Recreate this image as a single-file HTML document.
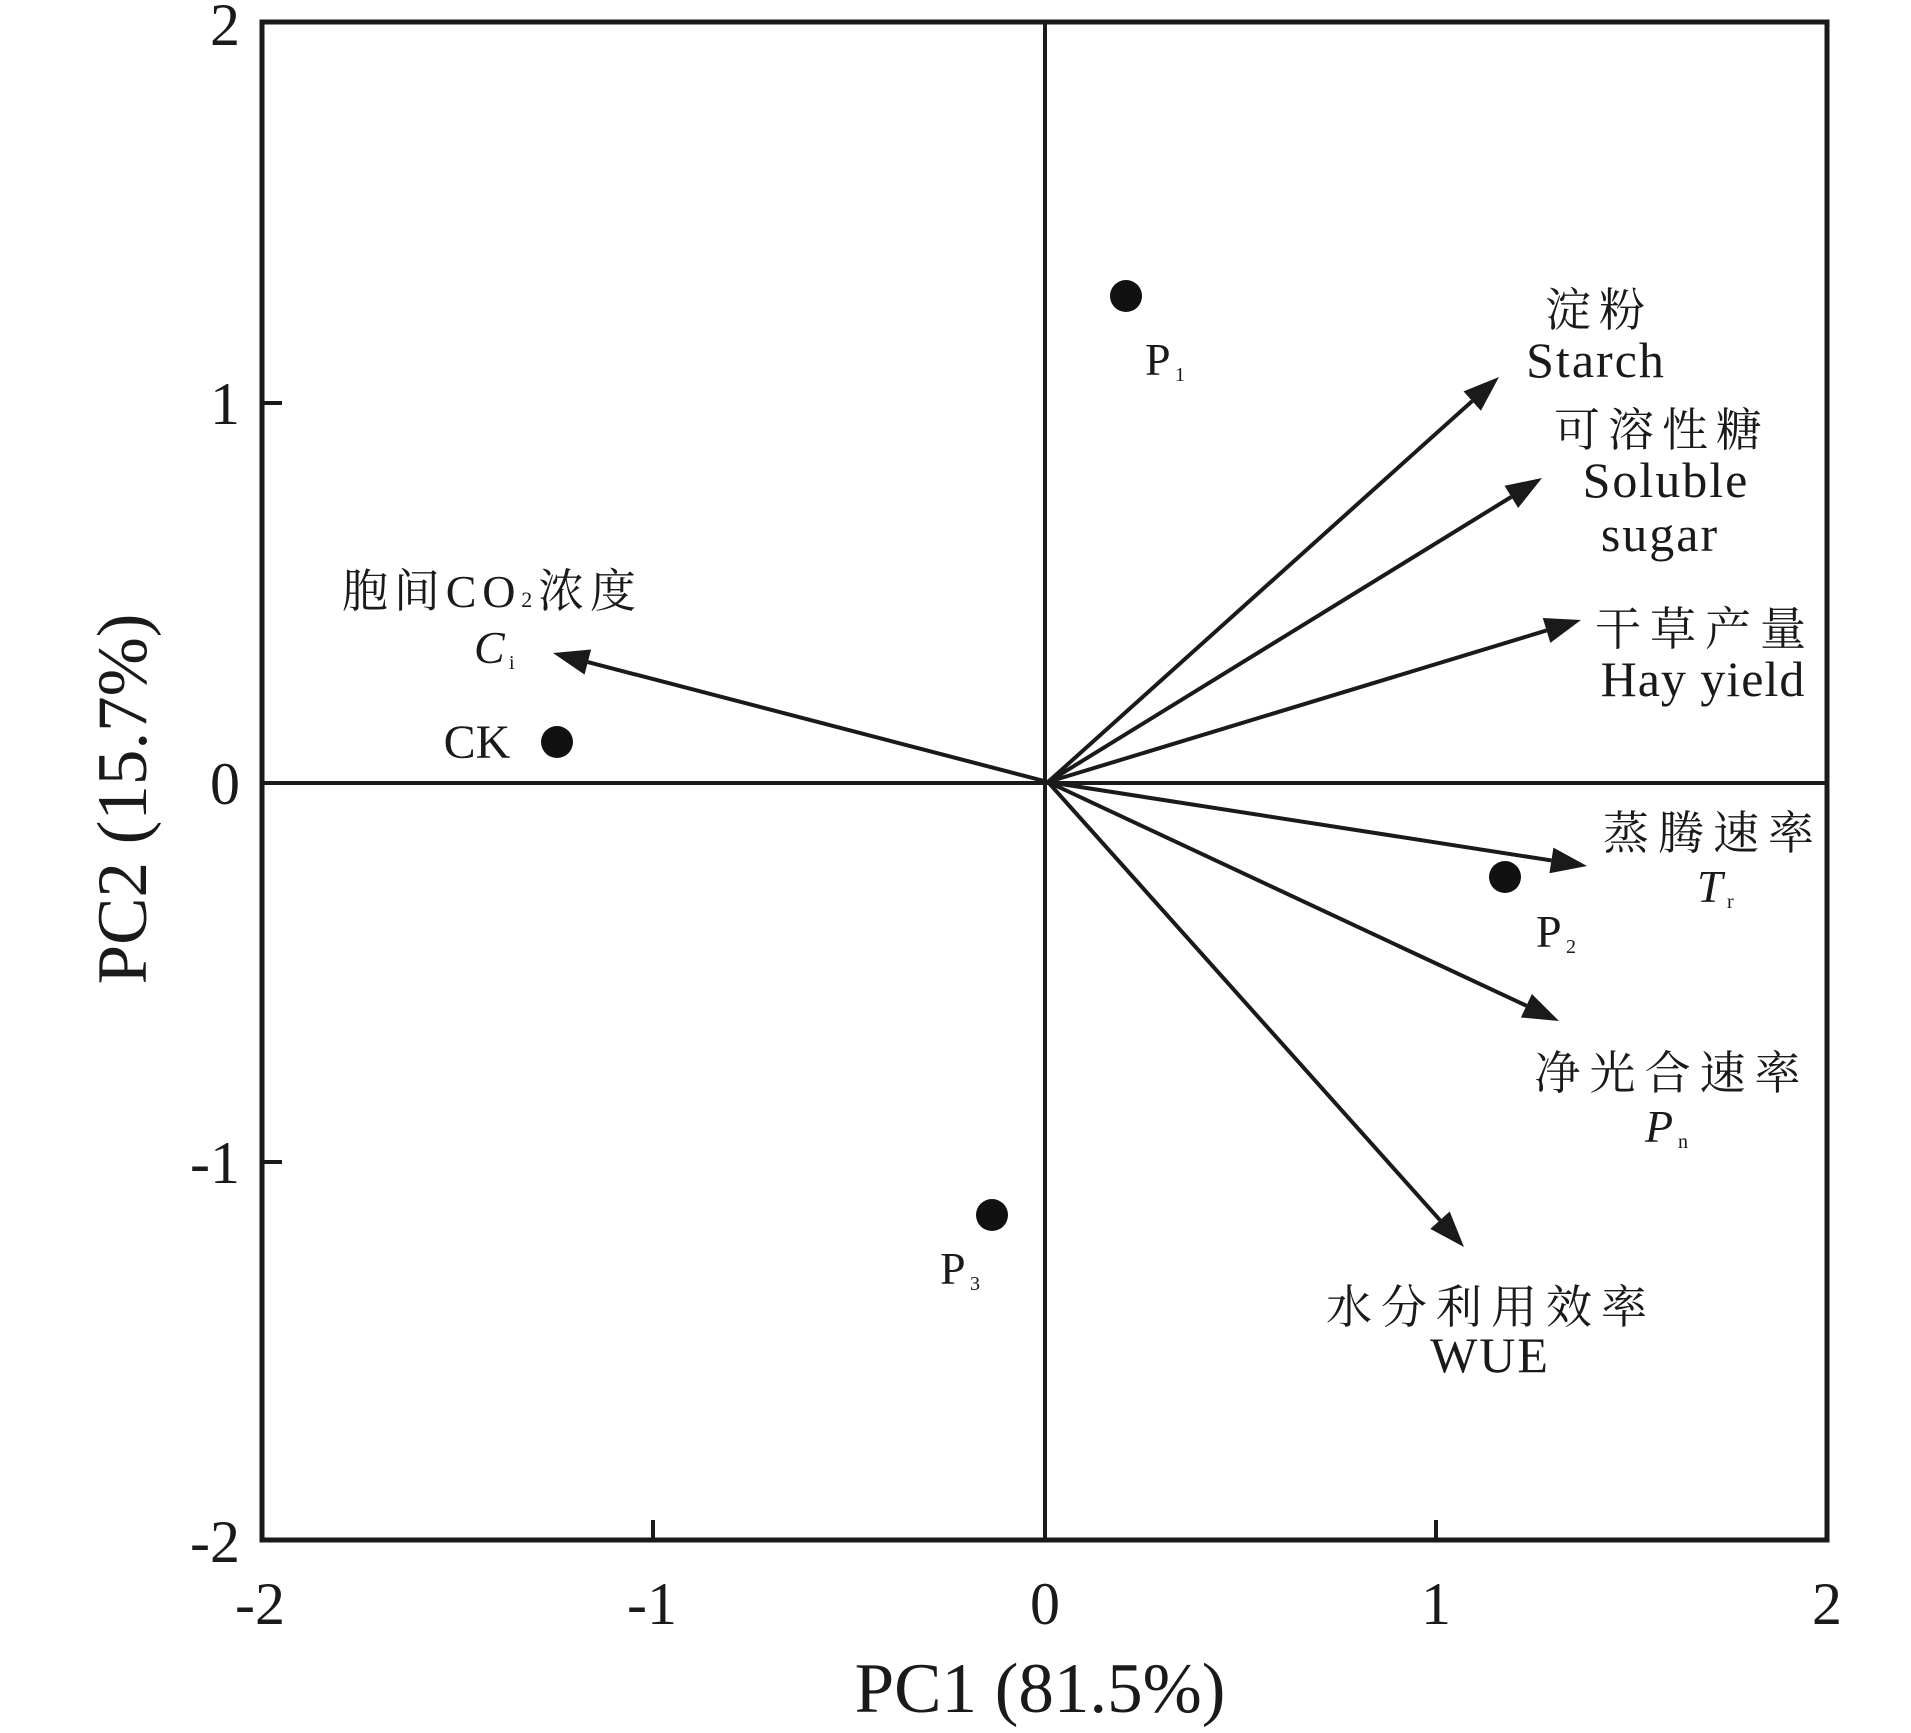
<!DOCTYPE html>
<html><head><meta charset="utf-8"><style>html,body{margin:0;padding:0;background:#fff}</style></head>
<body>
<svg width="1911" height="1728" viewBox="0 0 1911 1728" xmlns="http://www.w3.org/2000/svg" font-family="'Liberation Serif','Noto Serif CJK SC',serif" fill="#1a1a1a">
<g stroke="#1a1a1a" fill="none">
<rect x="262" y="22" width="1565" height="1518" stroke-width="5"/>
<line x1="1045" y1="22" x2="1045" y2="1540" stroke-width="4"/>
<line x1="262" y1="783" x2="1827" y2="783" stroke-width="4"/>
<line x1="262" y1="403" x2="282" y2="403" stroke-width="4"/>
<line x1="262" y1="1162" x2="282" y2="1162" stroke-width="4"/>
<line x1="653" y1="1540" x2="653" y2="1520" stroke-width="4"/>
<line x1="1436" y1="1540" x2="1436" y2="1520" stroke-width="4"/>
</g>
<g id="arrows" stroke="#1a1a1a" stroke-width="4"></g>
<script>
var ends=[[1499,377],[1542,478],[1581,620],[1587,866],[1559,1021],[1464,1247],[553,653]];
var g=document.getElementById('arrows'),ox=1048,oy=782,NS='http://www.w3.org/2000/svg';
ends.forEach(function(e){var dx=e[0]-ox,dy=e[1]-oy,L=Math.hypot(dx,dy),ux=dx/L,uy=dy/L,h=36,w=13;
var bx=e[0]-ux*h,by=e[1]-uy*h;
var l=document.createElementNS(NS,'line');l.setAttribute('x1',ox);l.setAttribute('y1',oy);l.setAttribute('x2',bx);l.setAttribute('y2',by);g.appendChild(l);
var p=document.createElementNS(NS,'polygon');p.setAttribute('points',e[0]+','+e[1]+' '+(bx-uy*w)+','+(by+ux*w)+' '+(bx+uy*w)+','+(by-ux*w));p.setAttribute('fill','#1a1a1a');p.setAttribute('stroke','none');g.appendChild(p);});
</script>
<g fill="#111">
<circle cx="1126" cy="296" r="16"/>
<circle cx="557" cy="742" r="16"/>
<circle cx="1505" cy="877" r="16"/>
<circle cx="992" cy="1215" r="16"/>
</g>
<g font-size="60" text-anchor="end">
<text x="240" y="45">2</text>
<text x="240" y="424">1</text>
<text x="240" y="804">0</text>
<text x="240" y="1183">-1</text>
<text x="240" y="1562">-2</text>
</g>
<g font-size="60" text-anchor="middle">
<text x="260" y="1624">-2</text>
<text x="652" y="1624">-1</text>
<text x="1045" y="1624">0</text>
<text x="1436" y="1624">1</text>
<text x="1827" y="1624">2</text>
</g>
<text x="1040" y="1712" font-size="71" text-anchor="middle">PC1 (81.5%)</text>
<text transform="translate(146,799) rotate(-90)" font-size="71" text-anchor="middle">PC2 (15.7%)</text>
<g font-size="46" text-anchor="middle">
<text x="1599" y="326" letter-spacing="8">淀粉</text>
<text x="1596" y="377" font-size="50" letter-spacing="2">Starch</text>
<text x="1662" y="446" letter-spacing="8">可溶性糖</text>
<text x="1666" y="497" font-size="50" letter-spacing="2">Soluble</text>
<text x="1660" y="551" font-size="50" letter-spacing="2">sugar</text>
<text x="1705" y="645" letter-spacing="9">干草产量</text>
<text x="1703" y="696" font-size="50" letter-spacing="1">Hay yield</text>
<text x="1713" y="849" letter-spacing="9">蒸腾速率</text>
<text x="1672" y="1089" letter-spacing="9">净光合速率</text>
<text x="1491" y="1323" letter-spacing="9">水分利用效率</text>
<text x="1490" y="1372" font-size="50" letter-spacing="2">WUE</text>
<text x="489" y="607" textLength="294" lengthAdjust="spacing">胞间CO<tspan font-size="22">2</tspan>浓度</text>
<text x="477" y="758" font-size="48">CK</text>
</g>
<g font-size="46">
<text x="1697" y="902" font-style="italic">T</text><text x="1727" y="908" font-size="20">r</text>
<text x="1645" y="1142" font-style="italic">P</text><text x="1678" y="1148" font-size="20">n</text>
<text x="474" y="663" font-style="italic">C</text><text x="509" y="669" font-size="20">i</text>
<text x="1145" y="375">P</text><text x="1175" y="381" font-size="20">1</text>
<text x="1536" y="947">P</text><text x="1566" y="953" font-size="20">2</text>
<text x="940" y="1284">P</text><text x="970" y="1290" font-size="20">3</text>
</g>
</svg>
</body></html>
